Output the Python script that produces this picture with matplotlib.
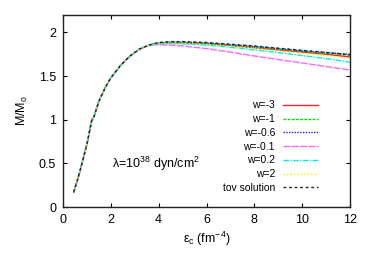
import matplotlib
matplotlib.use("Agg")
import matplotlib.pyplot as plt

plt.rcParams["font.family"] = ["Liberation Sans", "DejaVu Sans"]
plt.rcParams["mathtext.fontset"] = "custom"
plt.rcParams["mathtext.rm"] = "Liberation Sans"
plt.rcParams["mathtext.it"] = "Liberation Sans"

# central energy density (fm^-4)
eps_rise = [0.45, 0.7, 1.0, 1.2, 1.3, 1.5, 1.75, 2.0, 2.4, 2.8, 3.2, 3.6]
mass_rise = [0.17, 0.40, 0.72, 0.99, 1.04, 1.21, 1.36, 1.48, 1.62, 1.73, 1.81, 1.855]

eps_tail = [4.0, 4.5, 5.0, 6.0, 7.0, 8.0, 9.0, 10.0, 11.0, 12.0]
mass_w_m3 = [1.875, 1.88, 1.88, 1.87, 1.85, 1.825, 1.80, 1.775, 1.75, 1.72]
mass_w_m1 = [1.88, 1.885, 1.885, 1.875, 1.855, 1.835, 1.81, 1.785, 1.76, 1.74]
mass_w_m06 = [1.88, 1.89, 1.89, 1.88, 1.86, 1.84, 1.815, 1.79, 1.77, 1.75]
mass_w_m01 = [1.86, 1.855, 1.845, 1.815, 1.775, 1.73, 1.69, 1.65, 1.61, 1.57]
mass_w_02 = [1.87, 1.875, 1.87, 1.855, 1.83, 1.80, 1.77, 1.735, 1.70, 1.66]
mass_w_2 = [1.875, 1.88, 1.88, 1.865, 1.845, 1.82, 1.79, 1.76, 1.735, 1.70]
mass_tov = [1.885, 1.895, 1.895, 1.885, 1.865, 1.845, 1.82, 1.795, 1.77, 1.745]

labels = ["w=-3", "w=-1", "w=-0.6", "w=-0.1", "w=0.2", "w=2", "tov solution"]
series = [mass_w_m3, mass_w_m1, mass_w_m06, mass_w_m01, mass_w_02, mass_w_2, mass_tov]
colors = ["#ff2020", "#00e000", "#2020ff", "#ff66ff", "#00eeee", "#f0f000", "#222222"]
styles = ["-", (0, (2, 1)), (0, (1, 1)), (0, (5, 1)), (0, (4, 1, 1, 1)),
          (0, (1, 1.5)), (0, (2, 2))]

fig = plt.figure(figsize=(3.74, 2.62), dpi=100)
ax = fig.add_axes([63 / 374, 1 - 207 / 262, 287 / 374, 192 / 262])

for lab, ys, c, ls in zip(labels, series, colors, styles):
    ax.plot(eps_rise + eps_tail, mass_rise + ys, color=c, linestyle=ls, lw=1.0, label=lab)

ax.set_xlim(0, 12)
ax.set_ylim(0, 2.2)
ax.set_xticks([0, 2, 4, 6, 8, 10, 12])
ax.set_yticks([0, 0.5, 1, 1.5, 2])
ax.set_yticklabels(["0", "0.5", "1", "1.5", "2"])
ax.tick_params(direction="in", length=3, width=0.8, top=True, right=True,
               labelsize=9, pad=5)
for sp in ax.spines.values():
    sp.set_linewidth(1.0)
    sp.set_color("#222222")

ax.set_xlabel(r"$\varepsilon_{\rm c}$ (fm$^{-4}$)", fontsize=9, labelpad=3)
ax.set_ylabel(r"M/M$_{\rm o}$", fontsize=9, labelpad=6)

ax.text(2.05, 0.45, r"$\lambda$=10$^{38}$ dyn/cm$^2$", fontsize=9)

ax.legend(loc="lower right", bbox_to_anchor=(0.914, 0.035), frameon=False,
          markerfirst=False, fontsize=7.5, handlelength=3.36, labelspacing=0.36,
          handletextpad=0.77, borderpad=0.2)

fig.savefig("out.png", dpi=100)
